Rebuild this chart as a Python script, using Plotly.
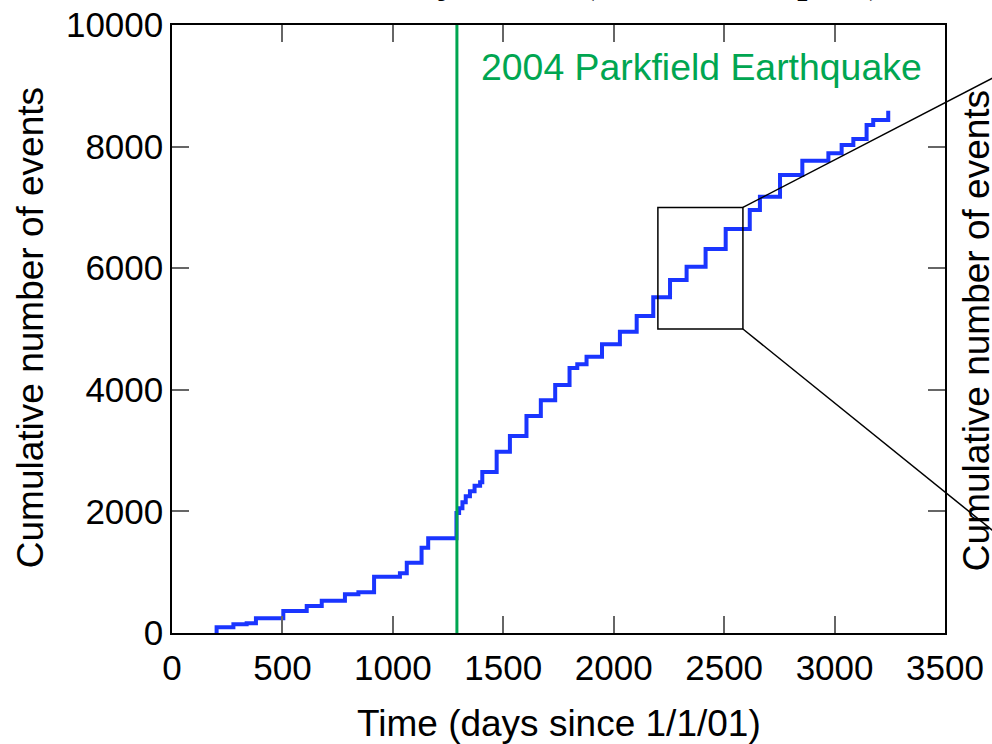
import plotly.graph_objects as go

# ---- data ----
step_days = [202, 202, 278, 338, 380, 504, 610, 678, 783, 844, 915, 1032, 1063, 1130, 1160, 1288,
             1300, 1315, 1330, 1349, 1370, 1395, 1405, 1470, 1530, 1605, 1670, 1735, 1800, 1835, 1877,
             1947, 2028, 2104, 2179, 2255, 2330, 2416, 2507, 2616, 2662, 2753, 2854, 2972, 3032,
             3085, 3145, 3175, 3243, 3243]
step_counts = [0, 95, 143, 160, 242, 362, 444, 531, 636, 669, 926, 982, 1157, 1404, 1557, 1974,
               2050, 2150, 2250, 2330, 2420, 2480, 2650, 2980, 3240, 3570, 3830, 4080, 4360, 4420, 4545,
               4748, 4956, 5214, 5521, 5806, 6025, 6316, 6645, 6957, 7176, 7533, 7768, 7889, 8026,
               8125, 8355, 8437, 8437, 8590]
quake_day = 1290
quake_label = "2004 Parkfield Earthquake"
zoom_x = [2200, 2585]
zoom_y = [5000, 7000]
x_range = [0, 3500]
y_range = [0, 10000]
x_ticks = [0, 500, 1000, 1500, 2000, 2500, 3000, 3500]
y_ticks = [0, 2000, 4000, 6000, 8000, 10000]
title_text = "Parkfield Seismicity Trend (Shallow Depths)"
x_title = "Time (days since 1/1/01)"
y_title = "Cumulative number of events"

BLUE = "#1a35ff"
GREEN = "#00a651"
SANS = "Liberation Sans, Arial, Helvetica, sans-serif"
SERIF = "Liberation Serif, Times New Roman, serif"

fig = go.Figure()
fig.add_trace(go.Scatter(x=step_days, y=step_counts, mode="lines",
                         line=dict(color=BLUE, width=4, shape="hv"), showlegend=False))
fig.add_trace(go.Scatter(x=[quake_day, quake_day], y=y_range, mode="lines",
                         line=dict(color=GREEN, width=3), showlegend=False))

# zoom rectangle
fig.add_shape(type="rect", xref="x", yref="y", x0=zoom_x[0], x1=zoom_x[1], y0=zoom_y[0], y1=zoom_y[1],
              line=dict(color="black", width=1.5))
# connector lines toward (off-canvas) inset panel
bx = zoom_x[1] / x_range[1]
fig.add_shape(type="line", xref="paper", yref="paper", x0=bx, y0=zoom_y[1] / y_range[1], x1=1.194, y1=1.0,
              line=dict(color="black", width=1.5))
fig.add_shape(type="line", xref="paper", yref="paper", x0=bx, y0=zoom_y[0] / y_range[1], x1=1.226, y1=0.0,
              line=dict(color="black", width=1.5))

axis_common = dict(showline=True, linecolor="black", linewidth=1.5, mirror="ticks", ticks="inside",
                   ticklen=17, tickwidth=1.5, tickcolor="#666666", showgrid=False, zeroline=False,
                   automargin=False, tickformat="d",
                   tickfont=dict(family=SANS, size=35, color="black"))
fig.update_xaxes(range=x_range, tickvals=x_ticks, ticklabelstandoff=3, **axis_common)
fig.update_yaxes(range=y_range, tickvals=y_ticks, ticklabelstandoff=0, **axis_common)

anns = [
    dict(text=quake_label, x=0.3972, y=0.931, xanchor="left", yanchor="middle",
         font=dict(family=SANS, size=37.4, color=GREEN)),
    dict(text=x_title, x=0.5006, y=-0.149, xanchor="center", yanchor="middle",
         font=dict(family=SANS, size=37, color="black")),
    dict(text=y_title, x=-0.1837, y=0.503, xanchor="center", yanchor="middle", textangle=-90,
         font=dict(family=SANS, size=37, color="black")),
    dict(text=y_title, x=1.040, y=0.498, xanchor="center", yanchor="middle", textangle=-90,
         font=dict(family=SANS, size=37, color="black")),
    dict(text=title_text, x=0.9224, y=1.0772, xanchor="right", yanchor="middle",
         font=dict(family=SERIF, size=43, color="black")),
]
for a in anns:
    fig.add_annotation(xref="paper", yref="paper", showarrow=False, **a)

fig.update_layout(width=992, height=744, margin=dict(l=172, r=47, t=25, b=111),
                  plot_bgcolor="white", paper_bgcolor="white")
fig.write_html("out.html")
